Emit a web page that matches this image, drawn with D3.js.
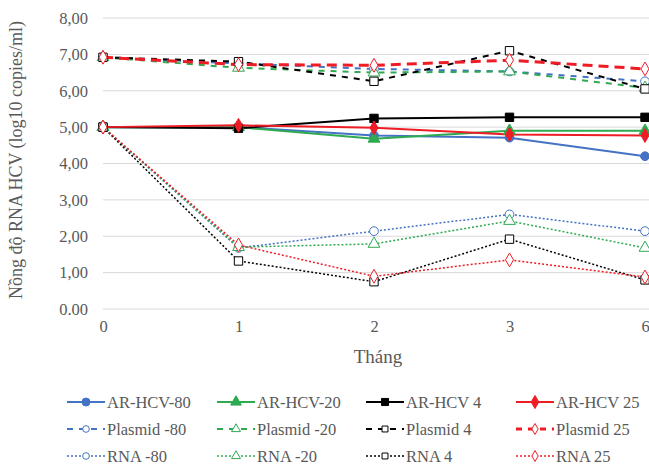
<!DOCTYPE html>
<html>
<head>
<meta charset="utf-8">
<script src="https://cdn.jsdelivr.net/npm/d3@7"></script>
<style>
  body { margin: 0; background: #fff; }
  text { font-family: "Liberation Serif", "Times New Roman", serif; fill: #595959; }
</style>
</head>
<body>
<div id="chart"></div>
<script>
// data
const months = ["0", "1", "2", "3", "6"];
const yTicks = [0, 1, 2, 3, 4, 5, 6, 7, 8];

const arHcv80 = [5.0, 5.0, 4.77, 4.71, 4.2];
const arHcv20 = [5.0, 5.0, 4.68, 4.9, 4.9];
const arHcv4 = [5.0, 4.97, 5.24, 5.27, 5.27];
const arHcv25 = [5.0, 5.05, 4.98, 4.8, 4.77];

const plasmid80 = [6.92, 6.75, 6.6, 6.53, 6.26];
const plasmid20 = [6.92, 6.63, 6.5, 6.53, 6.08];
const plasmid4 = [6.92, 6.8, 6.26, 7.1, 6.05];
const plasmid25 = [6.92, 6.72, 6.7, 6.84, 6.6];

const rna80 = [5.0, 1.68, 2.14, 2.6, 2.14];
const rna20 = [5.0, 1.7, 1.79, 2.42, 1.68];
const rna4 = [5.0, 1.32, 0.75, 1.92, 0.8];
const rna25 = [5.0, 1.76, 0.9, 1.35, 0.88];

const blue = "#4472C4", green = "#2EAA50", black = "#000000", red = "#EE1C25";

// series list in Excel order (row by row of the legend)
const series = [
  {name: "AR-HCV-80", values: arHcv80, color: blue, dash: null, width: 2, shape: "circle", open: false},
  {name: "AR-HCV-20", values: arHcv20, color: green, dash: null, width: 2, shape: "triangle", open: false},
  {name: "AR-HCV 4", values: arHcv4, color: black, dash: null, width: 2, shape: "square", open: false},
  {name: "AR-HCV 25", values: arHcv25, color: red, dash: null, width: 2, shape: "diamond", open: false},
  {name: "Plasmid -80", values: plasmid80, color: blue, dash: "6,6", width: 2, shape: "circle", open: true},
  {name: "Plasmid -20", values: plasmid20, color: green, dash: "6,6", width: 2, shape: "triangle", open: true},
  {name: "Plasmid 4", values: plasmid4, color: black, dash: "6,6", width: 2, shape: "square", open: true},
  {name: "Plasmid 25", values: plasmid25, color: red, dash: "10,6", width: 3, shape: "diamond", open: true},
  {name: "RNA -80", values: rna80, color: blue, dash: "2,2", width: 1.5, shape: "circle", open: true},
  {name: "RNA -20", values: rna20, color: green, dash: "2,2", width: 1.5, shape: "triangle", open: true},
  {name: "RNA 4", values: rna4, color: black, dash: "2,2", width: 1.5, shape: "square", open: true},
  {name: "RNA 25", values: rna25, color: red, dash: "2,2", width: 1.5, shape: "diamond", open: true}
];

const width = 649, height = 465;
const svg = d3.select("#chart").append("svg")
  .attr("width", width).attr("height", height);

const xScale = d3.scalePoint().domain(months).range([103, 645]);
const yScale = d3.scaleLinear().domain([0, 8]).range([309, 18]);

// gridlines
svg.append("g").selectAll("line").data(yTicks).enter().append("line")
  .attr("x1", 103).attr("x2", 649)
  .attr("y1", d => yScale(d)).attr("y2", d => yScale(d))
  .attr("stroke", "#d9d9d9").attr("stroke-width", 1);

// y axis labels (8,00 ... 1,00 then 0.00 as in the picture)
const yAxis = d3.axisLeft(yScale).tickValues(yTicks).tickSize(0)
  .tickFormat(d => d === 0 ? "0.00" : d3.format(".2f")(d).replace(".", ","));
const gy = svg.append("g").attr("transform", "translate(90,0)").call(yAxis);
gy.select(".domain").remove();
gy.selectAll("text").attr("font-size", 16.5).attr("x", -2)
  .style("font-family", "Liberation Serif").attr("fill", "#595959");

// x axis labels
const xAxis = d3.axisBottom(xScale).tickSize(0);
const gx = svg.append("g").attr("transform", "translate(0,317)").call(xAxis);
gx.select(".domain").remove();
gx.selectAll("text").attr("font-size", 16.5)
  .style("font-family", "Liberation Serif").attr("fill", "#595959");

// titles
svg.append("text").attr("x", 378).attr("y", 363).attr("text-anchor", "middle")
  .attr("font-size", 19).text("Tháng");
svg.append("text").attr("transform", "translate(22,160) rotate(-90)")
  .attr("text-anchor", "middle").attr("font-size", 18)
  .text("Nồng độ RNA HCV (log10 copies/ml)");

const symbolType = {circle: d3.symbolCircle, triangle: d3.symbolTriangle, square: d3.symbolSquare, diamond: d3.symbolDiamond};
const symbolSize = {circle: 60, triangle: 60, square: 70, diamond: 55};

const line = d3.line().x((d, i) => xScale(months[i])).y(d => yScale(d));

// lines
series.forEach(s => {
  svg.append("path")
    .datum(s.values)
    .attr("d", line)
    .attr("fill", "none")
    .attr("stroke", s.color)
    .attr("stroke-width", s.width)
    .attr("stroke-dasharray", s.dash);
});

// markers
series.forEach(s => {
  const sym = d3.symbol().type(symbolType[s.shape]).size(symbolSize[s.shape]);
  svg.append("g").selectAll("path").data(s.values).enter().append("path")
    .attr("d", sym)
    .attr("transform", (d, i) => "translate(" + xScale(months[i]) + "," + yScale(d) + ")")
    .attr("fill", s.open ? "#fff" : s.color)
    .attr("stroke", s.color)
    .attr("stroke-width", 1);
});

// legend
const legendX = [67, 217, 366, 516];
const legendY = [402, 429, 456];
series.forEach((s, i) => {
  const col = i % 4, row = Math.floor(i / 4);
  const g = svg.append("g").attr("transform", "translate(" + legendX[col] + "," + legendY[row] + ")");
  g.append("line").attr("x1", 0).attr("x2", 38).attr("y1", 0).attr("y2", 0)
    .attr("stroke", s.color).attr("stroke-width", s.width)
    .attr("stroke-dasharray", s.dash === null ? null : (row === 1 ? "6,6" : "2,2"));
  g.append("path")
    .attr("d", d3.symbol().type(symbolType[s.shape]).size(row === 0 ? 50 : 35)())
    .attr("transform", "translate(19,0)")
    .attr("fill", s.open ? "#fff" : s.color)
    .attr("stroke", s.color).attr("stroke-width", 1);
  g.append("text").attr("x", 40).attr("y", 5.5).attr("font-size", 16.5).text(s.name);
});
</script>
</body>
</html>
